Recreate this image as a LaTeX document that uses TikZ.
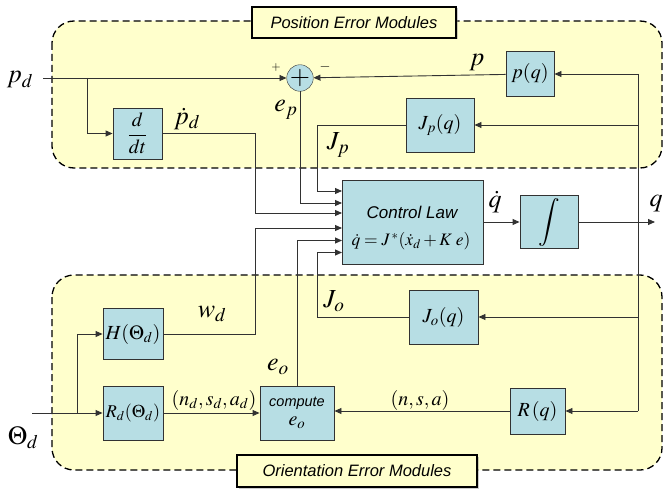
\documentclass[tikz,border=0pt]{standalone}
\usepackage[no-math]{fontspec}
\usepackage{mathptmx}
\usepackage{tikz}
\usetikzlibrary{arrows.meta,positioning,shadows}
\newfontfamily\arialfont{Liberation Sans}

\definecolor{boxblue}{RGB}{183,222,228}
\definecolor{modyellow}{RGB}{255,255,204}
\definecolor{linegray}{RGB}{50,50,50}

\tikzset{
  block/.style={draw=linegray,fill=boxblue,line width=0.9pt,inner sep=0pt,
    font=\fontsize{20}{24}\selectfont},
  sig/.style={-{Triangle[length=7pt,width=6pt]},draw=linegray,line width=0.9pt},
  plain/.style={draw=linegray,line width=0.9pt},
  module/.style={draw,dash pattern=on 7pt off 4pt,line width=1.3pt,
    fill=modyellow,rounded corners=22pt},
  modtitle/.style={draw,line width=1.3pt,fill=modyellow,inner sep=0pt,
    font=\arialfont\itshape\fontsize{16.5}{20}\selectfont,
    drop shadow={shadow xshift=1.5pt,shadow yshift=-1.5pt,opacity=0.4}},
  siglabel/.style={inner sep=0pt,font=\fontsize{26}{30}\selectfont},
  smalllabel/.style={inner sep=0pt,font=\fontsize{20}{24}\selectfont},
}

\begin{document}
\begin{tikzpicture}[x=1pt,y=-1pt]
      \useasboundingbox (0,0) rectangle (664,492);

      % error module regions
      \draw[module] (52,21) rectangle (662,168);
      \draw[module] (52,275) rectangle (662,470);
      \node[modtitle,minimum width=204pt,minimum height=31pt] (postitle) at (354,22.5) {Position Error Modules};
      \node[modtitle,minimum width=240pt,minimum height=32pt] (orititle) at (357,471) {Orientation Error Modules};

      \coordinate (pdin) at (43,78);
      \coordinate (pdsplit) at (87,78);
      \coordinate (thin) at (32,413);
      \coordinate (thsplit) at (77,413);
      \coordinate (qout) at (655,222);
      \coordinate (fbtop) at (638,74);
      \coordinate (fbbot) at (638,411);

      % inputs of the control law
      \coordinate (in1) at (342,191);
      \coordinate (in2) at (342,203);
      \coordinate (in3) at (342,213);
      \coordinate (in4) at (342,228);
      \coordinate (in5) at (342,240.5);
      \coordinate (in6) at (342,252.5);

      \node[draw=linegray,fill=boxblue,circle,minimum size=26pt,inner sep=0pt,
            font=\fontsize{26}{26}\selectfont] (sum) at (300,78) {$+$};
      \node[block,minimum width=49pt,minimum height=51pt] (ddt) at (137.5,133.5) {$\displaystyle\frac{d}{dt}$};
      \node[block,minimum width=48pt,minimum height=45pt] (pq) at (530,74) {$p(q)$};
      \node[block,minimum width=68pt,minimum height=54pt] (jpq) at (440,125) {$J_{p}(q)$};
      \node[block,minimum width=141pt,minimum height=84pt] (law) at (412.5,222) {};
      \node[block,minimum width=58pt,minimum height=53pt,font=\fontsize{24}{28}\selectfont] (integ) at (549,222) {$\displaystyle\int$};
      \node[block,minimum width=69pt,minimum height=54pt] (joq) at (443.5,317) {$J_{o}(q)$};
      \node[block,minimum width=55pt,minimum height=46pt] (rq) at (537.5,411) {$R\,(q)$};
      \node[block,minimum width=60pt,minimum height=51pt] (h) at (133,334) {$H(\Theta_{d})$};
      \node[block,minimum width=60pt,minimum height=54pt,font=\fontsize{18}{22}\selectfont] (rd) at (133,413) {$R_{d}(\Theta_{d})$};
      \node[block,minimum width=74pt,minimum height=54pt,align=center,
            font=\arialfont\itshape\fontsize{14.5}{20}\selectfont] (comp) at (297,413) {compute\\[-1pt]{\fontsize{20}{22}\selectfont$e_{o}$}};

      \node[inner sep=0pt,font=\arialfont\itshape\fontsize{17}{20}\selectfont] (lawname) at (412,212) {Control Law};
      \node[inner sep=0pt,font=\fontsize{17.5}{20}\selectfont] (lawrule) at (411,241) {$\dot q = J^{\,*}(\dot x_{d} + K\;e)$};

      \draw[sig] (pdin) -- (sum);
      \draw[sig] (pdsplit) |- (ddt.west);
      \draw[sig] (ddt.east) -| ([xshift=-87pt]in3) -- (in3);
      \draw[sig] (sum.south) |- (in2);
      \draw[sig] (pq) -- (sum);
      \draw[sig] (jpq.west) -| ([xshift=-25pt]in1) -- (in1);
      \draw[sig] (joq.west) -| ([xshift=-25pt]in6) -- (in6);
      \draw[sig] (h.east) -| ([xshift=-87pt]in4) -- (in4);
      \draw[sig] (comp.north) |- (in5);
      \draw[sig] (thin) -- (rd.west);
      \draw[sig] (thsplit) |- (h.west);
      \draw[sig] (rd.east) -- (comp.west);
      \draw[sig] (rq.west) -- (rq.west -| comp.east);
      \draw[sig] (law.east) -- (integ.west);
      \draw[sig] (integ.east) -- (qout);

      % feedback of q
      \draw[plain] (fbtop) -- (fbbot);
      \draw[sig] (fbtop) -- (pq.east);
      \draw[sig] (jpq.east -| fbtop) -- (jpq.east);
      \draw[sig] (joq.east -| fbtop) -- (joq.east);
      \draw[sig] (fbbot) -- (rq.east);

      \node[siglabel] (pdlab) at (20,80) {$p_{d}$};
      \node[siglabel] (plab) at (477,63) {$p$};
      \node[siglabel] (pdotlab) at (187,119) {$\dot p_{d}$};
      \node[siglabel] (eplab) at (286,110) {$e_{p}$};
      \node[siglabel] (jplab) at (338,145) {$J_{p}$};
      \node[siglabel] (qdotlab) at (495,202) {$\dot q$};
      \node[siglabel] (qlab) at (656,204) {$q$};
      \node[siglabel] (jolab) at (334,301) {$J_{o}$};
      \node[siglabel] (wdlab) at (212,314) {$w_{d}$};
      \node[siglabel] (eolab) at (278,367) {$e_{o}$};
      \node[siglabel] (thlab) at (23,438) {$\Theta_{d}$};
      \node[smalllabel] (ndlab) at (214,400) {$(n_{d},s_{d},a_{d})$};
      \node[smalllabel] (nsalab) at (420,400) {$(n,s,a)$};
      \node[inner sep=0pt,font=\fontsize{12}{14}\selectfont] (pluslab) at (276,68) {$+$};
      \node[inner sep=0pt,font=\fontsize{14}{14}\selectfont] (minuslab) at (325,67) {$-$};
\end{tikzpicture}
\end{document}
